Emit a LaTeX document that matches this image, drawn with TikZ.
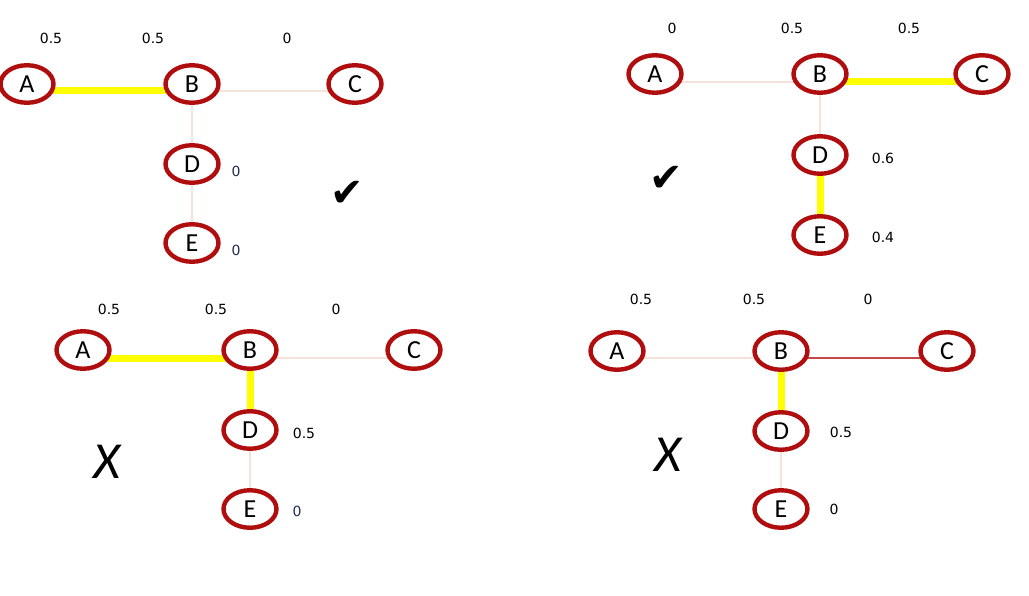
\documentclass[tikz,border=0pt]{standalone}
\usepackage{fontspec}
\setmainfont{Carlito}
\newfontfamily\numfont{DejaVu Sans}
\newfontfamily\symfont{DejaVu Sans}
\usetikzlibrary{shapes.geometric,backgrounds}
\definecolor{ringred}{RGB}{176,14,14}
\definecolor{paleedge}{RGB}{246,226,216}
\definecolor{hiyellow}{RGB}{255,255,0}
\definecolor{redline}{RGB}{200,70,70}
\definecolor{navy}{RGB}{30,45,80}
\tikzset{
  vert/.style={ellipse, draw=ringred, line width=4.4pt, fill=white, minimum width=53pt, minimum height=37.5pt, inner sep=0pt, font=\fontsize{26}{26}\selectfont},
  val/.style={font=\numfont\fontsize{14}{14}\selectfont, text=black, inner sep=0pt},
  valb/.style={val, text=navy},
  pale/.style={draw=paleedge, line width=2.2pt},
  palev/.style={draw=paleedge, line width=1.5pt},
  hot/.style={draw=hiyellow, line width=7pt},
  redl/.style={draw=redline, line width=1.4pt},
  tick/.style={font=\symfont\fontsize{40}{40}\selectfont, inner sep=0pt},
  cross/.style={font=\itshape\fontsize{52}{52}\selectfont, inner sep=0pt}
}
\begin{document}
\begin{tikzpicture}[x=1pt,y=-1pt]
\useasboundingbox (0,0) rectangle (1029,596);
% ---------- panel 1 ----------
\node[vert] (a1) at (27,84) {A};
\node[vert] (b1) at (192,84) {B};
\node[vert] (c1) at (355,84) {C};
\node[vert] (d1) at (192,164) {D};
\node[vert] (e1) at (192,243) {E};
\node[val] (la1) at (51,38) {0.5};
\node[val] (lb1) at (153,38) {0.5};
\node[val] (lc1) at (287,38) {0};
\node[valb] (ld1) at (236,171) {0};
\node[valb] (le1) at (236,250) {0};
\node[tick] (t1) at (347,194) {✔};
\begin{scope}[on background layer]
\draw[hot] ([yshift=-7pt]a1.center) -- ([yshift=-7pt]b1.center);
\draw[pale] ([yshift=-7pt]b1.center) -- ([yshift=-7pt]c1.center);
\draw[palev] (b1.center) -- (d1.center);
\draw[palev] (d1.center) -- (e1.center);
\end{scope}
% ---------- panel 2 ----------
\node[vert] (a2) at (655,74) {A};
\node[vert] (b2) at (820,74) {B};
\node[vert] (c2) at (982,74) {C};
\node[vert] (d2) at (820,155) {D};
\node[vert] (e2) at (820,235) {E};
\node[val] (la2) at (672,28) {0};
\node[val] (lb2) at (792,28) {0.5};
\node[val] (lc2) at (909,28) {0.5};
\node[val] (ld2) at (883,158) {0.6};
\node[val] (le2) at (883,237) {0.4};
\node[tick] (t2) at (666,179) {✔};
\begin{scope}[on background layer]
\draw[pale] ([yshift=-8pt]a2.center) -- ([yshift=-8pt]b2.center);
\draw[hot] ([yshift=-8pt]b2.center) -- ([yshift=-8pt]c2.center);
\draw[palev] (b2.center) -- (d2.center);
\draw[hot] (d2.center) -- (e2.center);
\end{scope}
% ---------- panel 3 ----------
\node[vert] (a3) at (83,350) {A};
\node[vert] (b3) at (250,350) {B};
\node[vert] (c3) at (414,350) {C};
\node[vert] (d3) at (250,430) {D};
\node[vert] (e3) at (250,509) {E};
\node[val] (la3) at (109,309) {0.5};
\node[val] (lb3) at (216,309) {0.5};
\node[val] (lc3) at (336,309) {0};
\node[val] (ld3) at (304,433) {0.5};
\node[valb] (le3) at (297,511) {0};
\node[cross] (x3) at (107,462) {X};
\begin{scope}[on background layer]
\draw[hot] ([yshift=-8pt]a3.center) -- ([yshift=-8pt]b3.center);
\draw[pale] ([yshift=-8pt]b3.center) -- ([yshift=-8pt]c3.center);
\draw[hot] (b3.center) -- (d3.center);
\draw[palev] (d3.center) -- (e3.center);
\end{scope}
% ---------- panel 4 ----------
\node[vert] (a4) at (617,351) {A};
\node[vert] (b4) at (781,351) {B};
\node[vert] (c4) at (947,351) {C};
\node[vert] (d4) at (781,431) {D};
\node[vert] (e4) at (781,509) {E};
\node[val] (la4) at (641,299) {0.5};
\node[val] (lb4) at (754,299) {0.5};
\node[val] (lc4) at (868,299) {0};
\node[val] (ld4) at (841,432) {0.5};
\node[val] (le4) at (834,509) {0};
\node[cross] (x4) at (668,455) {X};
\begin{scope}[on background layer]
\draw[pale] ([yshift=-7pt]a4.center) -- ([yshift=-7pt]b4.center);
\draw[redl] ([yshift=-7pt]b4.center) -- ([yshift=-7pt]c4.center);
\draw[hot] (b4.center) -- (d4.center);
\draw[palev] (d4.center) -- (e4.center);
\end{scope}
\end{tikzpicture}
\end{document}
